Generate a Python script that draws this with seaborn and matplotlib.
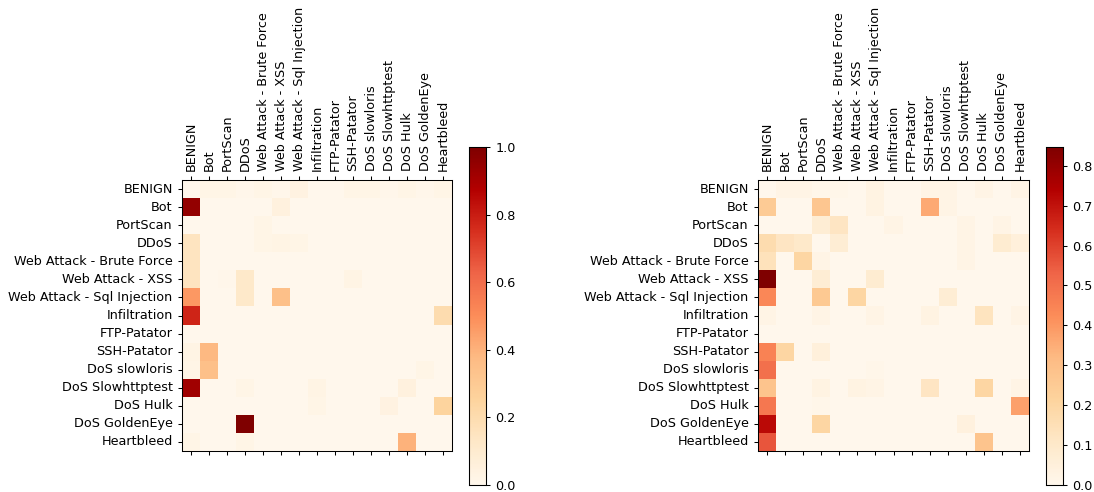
import numpy as np
import pandas as pd
import matplotlib
matplotlib.use('Agg')
import matplotlib.pyplot as plt
import seaborn as sns

labels = ['BENIGN', 'Bot', 'PortScan', 'DDoS', 'Web Attack - Brute Force',
          'Web Attack - XSS', 'Web Attack - Sql Injection', 'Infiltration',
          'FTP-Patator', 'SSH-Patator', 'DoS slowloris', 'DoS Slowhttptest',
          'DoS Hulk', 'DoS GoldenEye', 'Heartbleed']

# matriz de erros (diagonal zerada) - modelo 1
erros_modelo1 = [
    [0.00, 0.02, 0.02, 0.01, 0.02, 0.01, 0.04, 0.00, 0.00, 0.02, 0.02, 0.01, 0.02, 0.01, 0.02],
    [0.95, 0.00, 0.00, 0.00, 0.00, 0.05, 0.00, 0.00, 0.00, 0.00, 0.00, 0.00, 0.00, 0.00, 0.00],
    [0.00, 0.00, 0.00, 0.00, 0.02, 0.00, 0.00, 0.00, 0.00, 0.00, 0.00, 0.00, 0.00, 0.00, 0.00],
    [0.15, 0.00, 0.00, 0.00, 0.02, 0.03, 0.02, 0.00, 0.00, 0.00, 0.00, 0.00, 0.00, 0.00, 0.00],
    [0.15, 0.00, 0.00, 0.00, 0.00, 0.00, 0.00, 0.00, 0.00, 0.00, 0.00, 0.00, 0.00, 0.00, 0.00],
    [0.15, 0.00, 0.01, 0.12, 0.00, 0.00, 0.00, 0.00, 0.00, 0.03, 0.00, 0.00, 0.00, 0.00, 0.00],
    [0.47, 0.00, 0.00, 0.12, 0.00, 0.35, 0.00, 0.00, 0.00, 0.00, 0.00, 0.00, 0.00, 0.00, 0.00],
    [0.78, 0.00, 0.00, 0.00, 0.00, 0.00, 0.00, 0.00, 0.00, 0.00, 0.00, 0.00, 0.00, 0.00, 0.20],
    [0.00, 0.00, 0.00, 0.00, 0.00, 0.00, 0.00, 0.00, 0.00, 0.00, 0.00, 0.00, 0.00, 0.00, 0.00],
    [0.03, 0.38, 0.00, 0.00, 0.00, 0.00, 0.00, 0.00, 0.00, 0.00, 0.00, 0.00, 0.00, 0.00, 0.00],
    [0.02, 0.35, 0.00, 0.00, 0.00, 0.00, 0.00, 0.00, 0.00, 0.00, 0.00, 0.00, 0.00, 0.02, 0.00],
    [0.92, 0.00, 0.00, 0.02, 0.00, 0.00, 0.00, 0.03, 0.00, 0.00, 0.00, 0.00, 0.05, 0.00, 0.00],
    [0.00, 0.00, 0.00, 0.00, 0.00, 0.00, 0.00, 0.02, 0.00, 0.00, 0.00, 0.04, 0.00, 0.00, 0.25],
    [0.00, 0.00, 0.00, 1.00, 0.00, 0.00, 0.00, 0.00, 0.00, 0.00, 0.00, 0.00, 0.00, 0.00, 0.00],
    [0.02, 0.00, 0.00, 0.02, 0.00, 0.00, 0.00, 0.00, 0.00, 0.00, 0.00, 0.00, 0.40, 0.00, 0.00],
]

# matriz de erros (diagonal zerada) - modelo 2
erros_modelo2 = [
    [0.00, 0.02, 0.02, 0.01, 0.01, 0.00, 0.03, 0.00, 0.00, 0.02, 0.02, 0.00, 0.02, 0.00, 0.02],
    [0.25, 0.00, 0.00, 0.27, 0.00, 0.00, 0.03, 0.00, 0.00, 0.36, 0.02, 0.00, 0.00, 0.00, 0.00],
    [0.00, 0.00, 0.00, 0.07, 0.12, 0.00, 0.00, 0.02, 0.00, 0.00, 0.00, 0.02, 0.00, 0.02, 0.00],
    [0.17, 0.12, 0.10, 0.00, 0.07, 0.00, 0.00, 0.00, 0.00, 0.00, 0.00, 0.02, 0.00, 0.08, 0.05],
    [0.14, 0.00, 0.20, 0.02, 0.00, 0.00, 0.00, 0.00, 0.00, 0.00, 0.00, 0.02, 0.00, 0.00, 0.00],
    [0.847, 0.00, 0.00, 0.07, 0.00, 0.00, 0.08, 0.00, 0.00, 0.00, 0.00, 0.00, 0.00, 0.00, 0.00],
    [0.44, 0.00, 0.00, 0.26, 0.00, 0.20, 0.00, 0.00, 0.00, 0.00, 0.07, 0.00, 0.00, 0.00, 0.00],
    [0.02, 0.00, 0.00, 0.02, 0.00, 0.00, 0.02, 0.00, 0.00, 0.03, 0.00, 0.00, 0.13, 0.00, 0.02],
    [0.00, 0.00, 0.00, 0.00, 0.00, 0.00, 0.00, 0.00, 0.00, 0.00, 0.00, 0.00, 0.00, 0.00, 0.00],
    [0.45, 0.20, 0.00, 0.05, 0.00, 0.00, 0.00, 0.00, 0.00, 0.00, 0.00, 0.00, 0.00, 0.00, 0.00],
    [0.50, 0.00, 0.00, 0.00, 0.00, 0.00, 0.01, 0.00, 0.00, 0.00, 0.00, 0.00, 0.00, 0.00, 0.00],
    [0.28, 0.00, 0.00, 0.03, 0.00, 0.03, 0.02, 0.00, 0.00, 0.12, 0.00, 0.00, 0.20, 0.00, 0.02],
    [0.48, 0.00, 0.00, 0.01, 0.00, 0.00, 0.00, 0.00, 0.00, 0.00, 0.00, 0.00, 0.00, 0.00, 0.38],
    [0.72, 0.00, 0.00, 0.20, 0.00, 0.00, 0.00, 0.00, 0.00, 0.00, 0.00, 0.04, 0.00, 0.00, 0.00],
    [0.56, 0.00, 0.00, 0.00, 0.00, 0.00, 0.00, 0.00, 0.00, 0.00, 0.00, 0.00, 0.28, 0.00, 0.00],
]

df1 = pd.DataFrame(erros_modelo1, index=labels, columns=labels)
df2 = pd.DataFrame(erros_modelo2, index=labels, columns=labels)

fig = plt.figure(figsize=(10.94, 4.92), dpi=100)

# posicoes dos eixos (heatmap + colorbar)
ax1 = fig.add_axes([0.1664, 0.0833, 0.2468, 0.5508])
cax1 = fig.add_axes([0.4287, 0.0142, 0.0155, 0.687])
ax2 = fig.add_axes([0.6929, 0.0833, 0.2477, 0.5508])
cax2 = fig.add_axes([0.9561, 0.0142, 0.0155, 0.687])

fs = 9.2
for df, ax, cax in [(df1, ax1, cax1), (df2, ax2, cax2)]:
    sns.heatmap(df, ax=ax, cbar_ax=cax, cmap='OrRd', vmin=0, vmax=df.values.max())
    ax.xaxis.tick_top()
    ax.tick_params(top=True, labeltop=True, bottom=True, labelbottom=False,
                   left=True, labelsize=fs, length=3.2, width=0.75)
    ax.set_xticklabels(labels, rotation=90)
    ax.set_yticklabels(labels, rotation=0)
    for s in ax.spines.values():
        s.set_visible(True)
        s.set_linewidth(0.75)
    cax.tick_params(labelsize=fs, length=3.2, width=0.75)
    for s in cax.spines.values():
        s.set_visible(True)
        s.set_linewidth(0.75)

plt.savefig('out.png', dpi=100)
